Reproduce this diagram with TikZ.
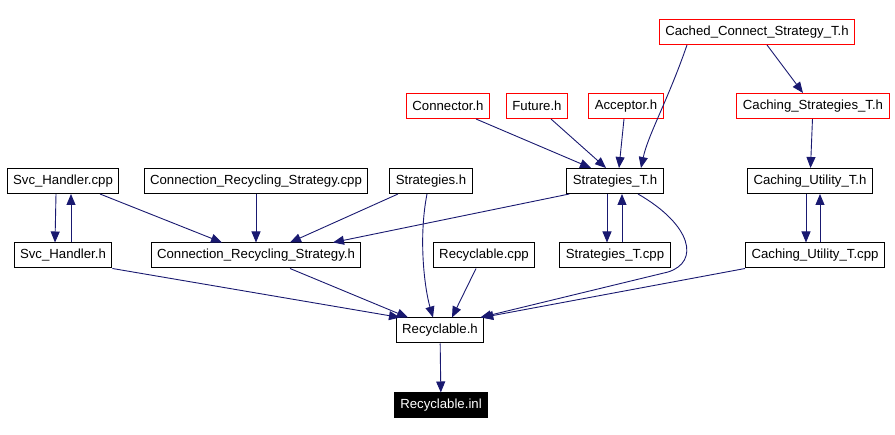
\documentclass[tikz,border=0pt]{standalone}
\usepackage{fontspec}
\setmainfont{Liberation Sans}
\usetikzlibrary{arrows.meta}
\definecolor{edgeblue}{HTML}{191970}
\tikzset{
file/.style={draw,line width=1pt,rectangle,minimum height=25pt,inner xsep=6pt,inner ysep=0pt,font=\fontsize{13.2}{15}\selectfont},
extfile/.style={file,draw=red},
mainfile/.style={file,fill=black,text=white},
dep/.style={draw=edgeblue,line width=0.9pt,-{Triangle[length=11pt,width=9pt]}}
}
\begin{document}
\begin{tikzpicture}[x=1pt,y=-1pt]
\useasboundingbox(0,0)rectangle(895,435);
\node[extfile](ccs)at(757,32){Cached\_Connect\_Strategy\_T.h};
\node[extfile](con)at(448,106){Connector.h};
\node[extfile](fut)at(537,106){Future.h};
\node[extfile](acc)at(626,106){Acceptor.h};
\node[extfile](cst)at(813,106){Caching\_Strategies\_T.h};
\node[file](shc)at(63,181){Svc\_Handler.cpp};
\node[file](crc)at(256,181){Connection\_Recycling\_Strategy.cpp};
\node[file](sh)at(431,181){Strategies.h};
\node[file](sth)at(615,181){Strategies\_T.h};
\node[file](cut)at(810,181){Caching\_Utility\_T.h};
\node[file](shh)at(63,255.5){Svc\_Handler.h};
\node[file](crh)at(256,255.5){Connection\_Recycling\_Strategy.h};
\node[file](rc)at(484,255.5){Recyclable.cpp};
\node[file](stc)at(615,255.5){Strategies\_T.cpp};
\node[file](cuc)at(815,255.5){Caching\_Utility\_T.cpp};
\node[file](rh)at(440,330.5){Recyclable.h};
\node[mainfile](ri)at(441,405.5){Recyclable.inl};
\draw[dep]([xshift=-70]ccs.south)..controls(668,100)and(648,135)..([xshift=26]sth.north);
\draw[dep]([xshift=10]ccs.south)--([xshift=-10]cst.north);
\draw[dep]([xshift=28]con.south)--([xshift=-24]sth.north);
\draw[dep]([xshift=14]fut.south)--([xshift=-9]sth.north);
\draw[dep]([xshift=-2]acc.south)--([xshift=4]sth.north);
\draw[dep](cst)--(cut);
\draw[dep]([xshift=-4]cut.south)--([xshift=-9]cuc.north);
\draw[dep]([xshift=5]cuc.north)--([xshift=10]cut.south);
\draw[dep]([xshift=-8]sth.south)--([xshift=-8]stc.north);
\draw[dep]([xshift=7]stc.north)--([xshift=7]sth.south);
\draw[dep]([xshift=-7]shc.south)--([xshift=-8]shh.north);
\draw[dep]([xshift=8]shh.north)--([xshift=8]shc.south);
\draw[dep]([xshift=37]shc.south)--([xshift=-34]crh.north);
\draw[dep](crc)--(crh);
\draw[dep]([xshift=-33]sh.south)--([xshift=34]crh.north);
\draw[dep]([xshift=3]sth.south west)--([xshift=77]crh.north);
\draw[dep]([xshift=-4]sh.south)..controls(418,240)and(425,290)..([xshift=-7]rh.north);
\draw[dep](shh.south east)--([xshift=-40]rh.north);
\draw[dep]([xshift=34]crh.south)--([xshift=-32]rh.north);
\draw[dep]([xshift=-8]rc.south)--([xshift=12]rh.north);
\draw[dep]([xshift=23]sth.south)..controls(692,225)and(700,262)..(668,272)--([xshift=-4]rh.north east);
\draw[dep](cuc.south west)--([xshift=-2]rh.north east);
\draw[dep](rh)--(ri);
\end{tikzpicture}
\end{document}
